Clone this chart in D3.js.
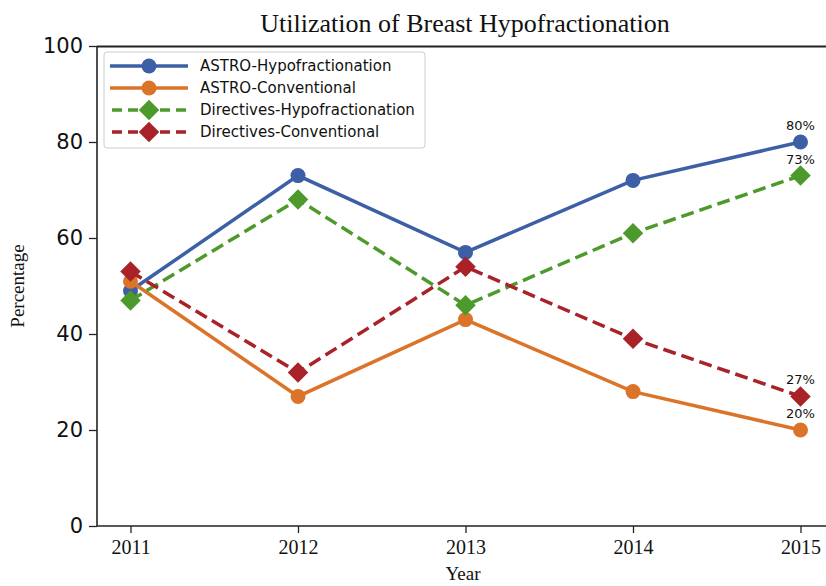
<!DOCTYPE html>
<html>
<head>
<meta charset="utf-8">
<script src="https://cdn.jsdelivr.net/npm/d3@7"></script>
<style>
  body { margin: 0; background: #fff; }
</style>
</head>
<body>
<div class="chart"></div>
<script>
var years = [2011, 2012, 2013, 2014, 2015]
var astroHypo = [49, 73, 57, 72, 80]
var astroConv = [51, 27, 43, 28, 20]
var dirHypo = [47, 68, 46, 61, 73]
var dirConv = [53, 32, 54, 39, 27]
var seriesNames = ["ASTRO-Hypofractionation", "ASTRO-Conventional", "Directives-Hypofractionation", "Directives-Conventional"]
var yTicks = [0, 20, 40, 60, 80, 100]

var series = [
  { name: seriesNames[0], values: astroHypo, color: "#3c5fa6", dash: null, marker: "circle" },
  { name: seriesNames[1], values: astroConv, color: "#db7428", dash: null, marker: "circle" },
  { name: seriesNames[2], values: dirHypo, color: "#4d9a2c", dash: "13,6", marker: "diamond" },
  { name: seriesNames[3], values: dirConv, color: "#a82228", dash: "13,6", marker: "diamond" }
]

var svg = d3.select(".chart")
    .append("svg")
    .attr("width", 826)
    .attr("height", 586)

var x = d3.scaleLinear().domain([2010.8, 2015.2]).range([97, 834])
var y = d3.scaleLinear().domain([0, 100]).range([526, 46])

// title
svg.append("text")
    .attr("x", 465)
    .attr("y", 32)
    .attr("text-anchor", "middle")
    .attr("font-family", "Liberation Serif, serif")
    .style("font-size", "26px")
    .attr("fill", "#111")
    .text("Utilization of Breast Hypofractionation")

// axes
var yAxis = svg.append("g")
    .attr("transform", "translate(97,0)")
    .call(d3.axisLeft(y).tickValues(yTicks).tickSize(8).tickPadding(6))
yAxis.selectAll("text")
    .attr("font-family", "DejaVu Sans, sans-serif")
    .style("font-size", "21px")
    .attr("fill", "#111")

var xAxis = svg.append("g")
    .attr("transform", "translate(0,526)")
    .call(d3.axisBottom(x).tickValues(years).tickFormat(d3.format("d")).tickSize(7).tickPadding(7))
xAxis.selectAll("text")
    .attr("font-family", "Liberation Serif, serif")
    .style("font-size", "20px")
    .attr("fill", "#111")

svg.selectAll(".domain").remove()
svg.selectAll(".tick line").attr("stroke", "#222").attr("stroke-width", 1.3)

// spines
svg.append("line").attr("x1", 97).attr("x2", 97).attr("y1", 46).attr("y2", 526)
    .style("stroke", "#222").style("stroke-width", 1.6)
svg.append("line").attr("x1", 97).attr("x2", 834).attr("y1", 526).attr("y2", 526)
    .style("stroke", "#222").style("stroke-width", 1.6)
svg.append("line").attr("x1", 97).attr("x2", 834).attr("y1", 46.5).attr("y2", 46.5)
    .style("stroke", "#222").style("stroke-width", 2.2)

// axis labels
svg.append("text")
    .attr("x", 463)
    .attr("y", 580)
    .attr("text-anchor", "middle")
    .attr("font-family", "Liberation Serif, serif")
    .style("font-size", "19px")
    .attr("fill", "#111")
    .text("Year")

svg.append("text")
    .attr("transform", "translate(24,286) rotate(-90)")
    .attr("text-anchor", "middle")
    .attr("font-family", "Liberation Serif, serif")
    .style("font-size", "19px")
    .attr("fill", "#111")
    .text("Percentage")

var diamond = d3.symbol().type(d3.symbolSquare).size(210)

function drawMarker(g, s, cx, cy) {
  if (s.marker == "circle") {
    g.append("circle").attr("cx", cx).attr("cy", cy).attr("r", 7.5).style("fill", s.color)
  } else {
    g.append("path").attr("d", diamond())
        .attr("transform", "translate(" + cx + "," + cy + ") rotate(45)")
        .style("fill", s.color)
  }
}

var line = d3.line().x((d, i) => x(years[i])).y(d => y(d))

series.forEach(s => {
  var g = svg.append("g")
  g.append("path")
      .attr("d", line(s.values))
      .style("fill", "none")
      .style("stroke", s.color)
      .style("stroke-width", 3.5)
      .style("stroke-dasharray", s.dash)
  s.values.forEach((v, i) => drawMarker(g, s, x(years[i]), y(v)))
})

// end labels
series.forEach(s => {
  var last = s.values[s.values.length - 1]
  svg.append("text")
      .attr("x", x(years[years.length - 1]))
      .attr("y", y(last) - 12)
      .attr("text-anchor", "middle")
      .attr("font-family", "DejaVu Sans, sans-serif")
      .style("font-size", "13px")
      .attr("fill", "#111")
      .text(last + "%")
})

// legend
var legend = svg.append("g")
legend.append("rect")
    .attr("x", 104).attr("y", 52).attr("width", 321).attr("height", 96)
    .attr("rx", 3)
    .style("fill", "#fff").style("fill-opacity", 0.85)
    .style("stroke", "#ccc").style("stroke-width", 1)

series.forEach((s, i) => {
  var ly = 66 + i * 22
  legend.append("line")
      .attr("x1", 110).attr("x2", 188).attr("y1", ly).attr("y2", ly)
      .style("stroke", s.color)
      .style("stroke-width", 3.5)
      .style("stroke-dasharray", s.dash ? "10,6" : null)
      .style("stroke-dashoffset", s.dash ? -2 : null)
  drawMarker(legend, s, 149, ly)
  legend.append("text")
      .attr("x", 200).attr("y", ly + 5)
      .attr("font-family", "DejaVu Sans, sans-serif")
      .style("font-size", "15px")
      .attr("fill", "#111")
      .text(s.name)
})
</script>
</body>
</html>
